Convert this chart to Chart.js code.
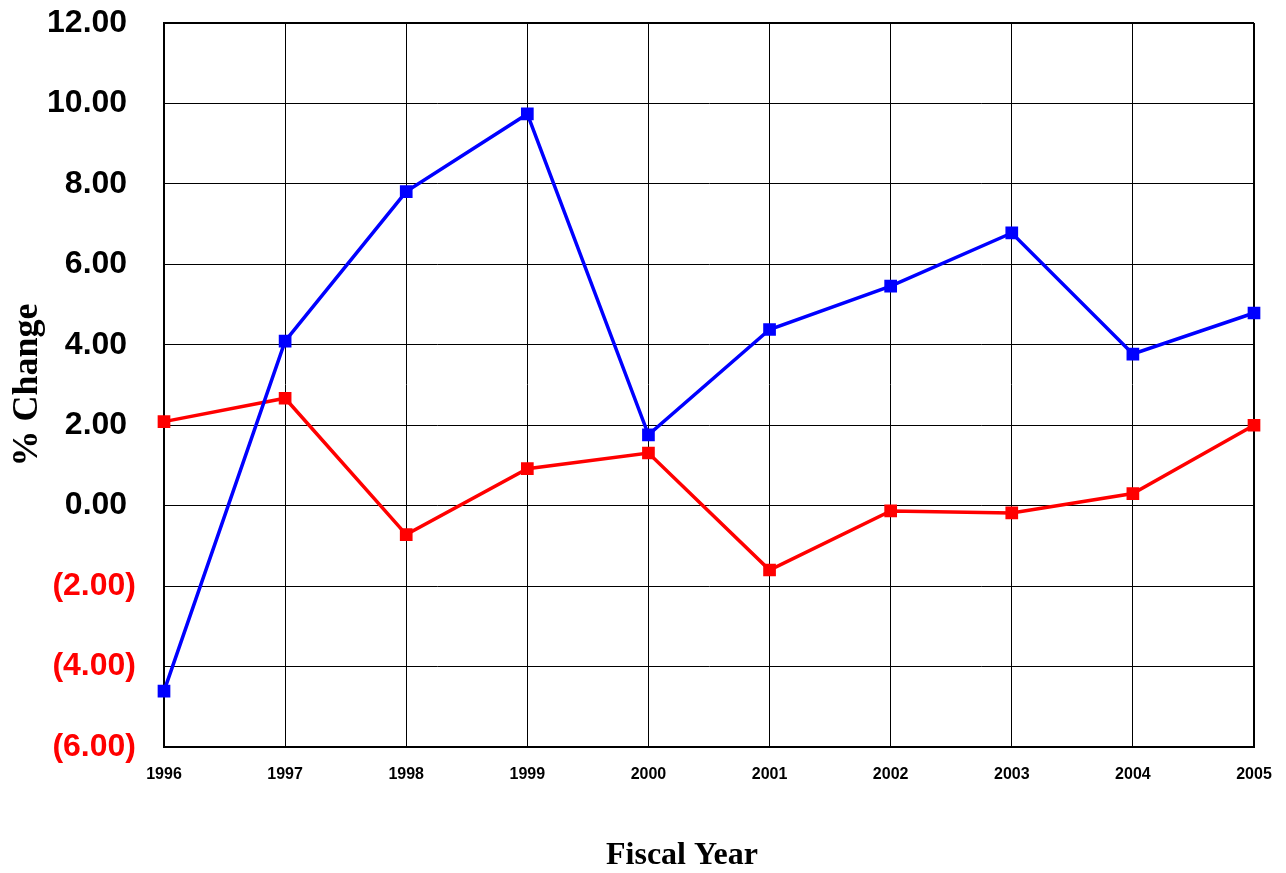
<!DOCTYPE html>
<html>
<head>
<meta charset="utf-8">
<script src="https://cdn.jsdelivr.net/npm/chart.js@4"></script>
<style>
  body { margin: 0; background: #fff; }
  #wrap { width: 1286px; height: 873px; }
</style>
</head>
<body>
<div id="wrap"><canvas id="myChart" width="1286" height="873"></canvas></div>
<script>
  const years = ['1996', '1997', '1998', '1999', '2000', '2001', '2002', '2003', '2004', '2005'];
  const blueValues = [-4.61, 4.09, 7.81, 9.74, 1.76, 4.38, 5.46, 6.78, 3.77, 4.79];
  const redValues = [2.09, 2.67, -0.72, 0.92, 1.31, -1.60, -0.13, -0.18, 0.30, 2.00];
  const yMin = -6;
  const yMax = 12;
  const yStep = 2;
  const xTitle = 'Fiscal Year';
  const yTitle = '% Change';

  // x title sits a bit left of the plot centre in the original, so draw it by hand
  const xTitlePlugin = {
    id: 'xTitlePlugin',
    afterDraw(chart) {
      const ctx = chart.ctx;
      ctx.save();
      ctx.font = 'bold 32px "Liberation Serif", "Times New Roman", serif';
      ctx.fillStyle = '#000';
      ctx.textAlign = 'center';
      ctx.textBaseline = 'middle';
      ctx.fillText(xTitle, 682, 856);
      ctx.restore();
    }
  };

  const data = {
    labels: years,
    datasets: [{
      label: 'Series 1',
      data: blueValues,
      borderColor: '#0000ff',
      backgroundColor: '#0000ff',
      borderWidth: 3.5,
      pointStyle: 'rect',
      pointRadius: 6.5,
      pointHoverRadius: 6.5,
      tension: 0,
      clip: false
    }, {
      label: 'Series 2',
      data: redValues,
      borderColor: '#ff0000',
      backgroundColor: '#ff0000',
      borderWidth: 3.5,
      pointStyle: 'rect',
      pointRadius: 6.5,
      pointHoverRadius: 6.5,
      tension: 0,
      clip: false
    }]
  };

  const config = {
    type: 'line',
    data: data,
    plugins: [xTitlePlugin],
    options: {
      responsive: false,
      animation: false,
      layout: { padding: 0 },
      plugins: {
        legend: { display: false },
        tooltip: { enabled: false }
      },
      scales: {
        x: {
          offset: false,
          afterFit(scale) {
            scale.height = 126;
            scale.paddingLeft = 0;
            scale.paddingRight = 32;
          },
          grid: {
            color: '#000',
            lineWidth: (c) => (c.index === years.length - 1 ? 2 : 1),
            drawTicks: false
          },
          border: { display: true, color: '#000', width: 2 },
          ticks: {
            padding: 18,
            color: '#000',
            maxRotation: 0,
            autoSkip: false,
            font: { family: '"Liberation Sans", Arial, sans-serif', size: 16, weight: 'bold' }
          }
        },
        y: {
          min: yMin,
          max: yMax,
          afterFit(scale) {
            scale.width = 164;
            scale.paddingTop = 23;
            scale.paddingBottom = 0;
          },
          grid: {
            color: '#000',
            lineWidth: (c) => (c.tick && c.tick.value === yMax ? 2 : 1),
            drawTicks: false
          },
          border: { display: true, color: '#000', width: 2 },
          ticks: {
            stepSize: yStep,
            padding: 28,
            color: (c) => (c.tick.value < 0 ? '#ff0000' : '#000'),
            font: { family: '"Liberation Sans", Arial, sans-serif', size: 32, weight: 'bold' },
            callback: (v) => (v < 0 ? '(' + Math.abs(v).toFixed(2) + ')' : v.toFixed(2) + ' ')
          },
          title: {
            display: true,
            text: yTitle,
            color: '#000',
            padding: { top: 6, bottom: 0 },
            font: { family: '"Liberation Serif", "Times New Roman", serif', size: 36, weight: 'bold' }
          }
        }
      }
    }
  };

  const myChart = new Chart(document.getElementById('myChart'), config);
</script>
</body>
</html>
